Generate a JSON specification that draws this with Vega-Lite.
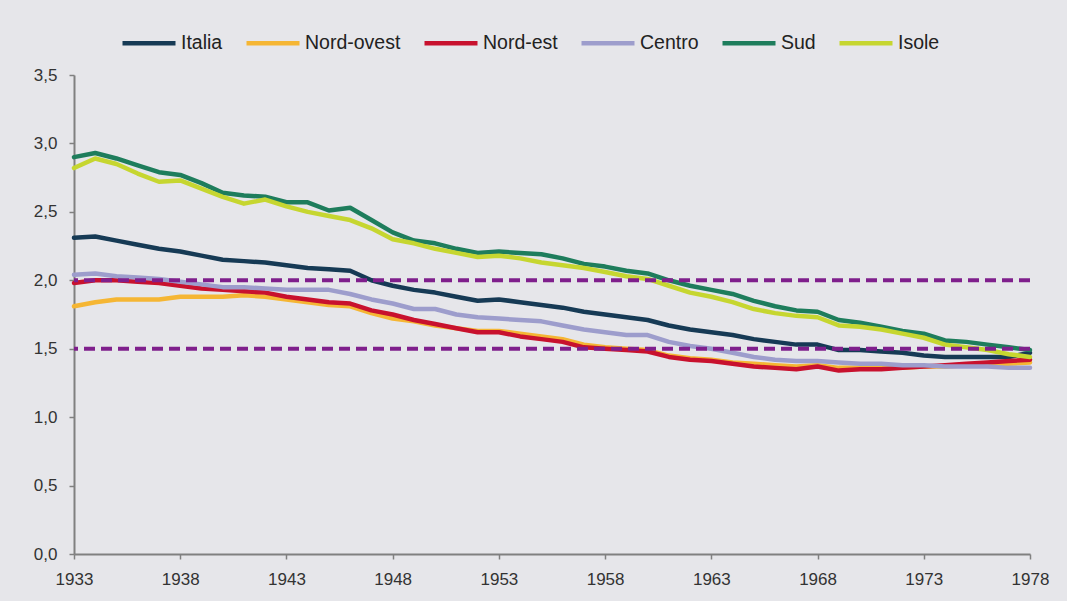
{
  "$schema": "https://vega.github.io/schema/vega-lite/v6.json",
  "width": 956,
  "height": 479,
  "autosize": {"type": "none"},
  "padding": {"left": 74, "top": 75, "right": 37, "bottom": 47},
  "background": "#e6e6ea",
  "config": {"view": {"stroke": null}, "font": "Liberation Sans"},
  "datasets": {
    "series": [
      {"year":1933,"Italia":2.31,"Nord-ovest":1.81,"Nord-est":1.98,"Centro":2.04,"Sud":2.90,"Isole":2.82},
      {"year":1934,"Italia":2.32,"Nord-ovest":1.84,"Nord-est":2.00,"Centro":2.05,"Sud":2.93,"Isole":2.89},
      {"year":1935,"Italia":2.29,"Nord-ovest":1.86,"Nord-est":2.00,"Centro":2.03,"Sud":2.89,"Isole":2.85},
      {"year":1936,"Italia":2.26,"Nord-ovest":1.86,"Nord-est":1.99,"Centro":2.02,"Sud":2.84,"Isole":2.78},
      {"year":1937,"Italia":2.23,"Nord-ovest":1.86,"Nord-est":1.98,"Centro":2.01,"Sud":2.79,"Isole":2.72},
      {"year":1938,"Italia":2.21,"Nord-ovest":1.88,"Nord-est":1.96,"Centro":1.99,"Sud":2.77,"Isole":2.73},
      {"year":1939,"Italia":2.18,"Nord-ovest":1.88,"Nord-est":1.94,"Centro":1.97,"Sud":2.71,"Isole":2.67},
      {"year":1940,"Italia":2.15,"Nord-ovest":1.88,"Nord-est":1.93,"Centro":1.95,"Sud":2.64,"Isole":2.61},
      {"year":1941,"Italia":2.14,"Nord-ovest":1.89,"Nord-est":1.92,"Centro":1.95,"Sud":2.62,"Isole":2.56},
      {"year":1942,"Italia":2.13,"Nord-ovest":1.88,"Nord-est":1.91,"Centro":1.94,"Sud":2.61,"Isole":2.59},
      {"year":1943,"Italia":2.11,"Nord-ovest":1.86,"Nord-est":1.88,"Centro":1.93,"Sud":2.57,"Isole":2.54},
      {"year":1944,"Italia":2.09,"Nord-ovest":1.84,"Nord-est":1.86,"Centro":1.93,"Sud":2.57,"Isole":2.50},
      {"year":1945,"Italia":2.08,"Nord-ovest":1.82,"Nord-est":1.84,"Centro":1.93,"Sud":2.51,"Isole":2.47},
      {"year":1946,"Italia":2.07,"Nord-ovest":1.81,"Nord-est":1.83,"Centro":1.90,"Sud":2.53,"Isole":2.44},
      {"year":1947,"Italia":2.00,"Nord-ovest":1.76,"Nord-est":1.78,"Centro":1.86,"Sud":2.44,"Isole":2.38},
      {"year":1948,"Italia":1.96,"Nord-ovest":1.72,"Nord-est":1.75,"Centro":1.83,"Sud":2.35,"Isole":2.30},
      {"year":1949,"Italia":1.93,"Nord-ovest":1.70,"Nord-est":1.71,"Centro":1.79,"Sud":2.29,"Isole":2.27},
      {"year":1950,"Italia":1.91,"Nord-ovest":1.67,"Nord-est":1.68,"Centro":1.79,"Sud":2.27,"Isole":2.23},
      {"year":1951,"Italia":1.88,"Nord-ovest":1.65,"Nord-est":1.65,"Centro":1.75,"Sud":2.23,"Isole":2.20},
      {"year":1952,"Italia":1.85,"Nord-ovest":1.63,"Nord-est":1.62,"Centro":1.73,"Sud":2.20,"Isole":2.17},
      {"year":1953,"Italia":1.86,"Nord-ovest":1.63,"Nord-est":1.62,"Centro":1.72,"Sud":2.21,"Isole":2.18},
      {"year":1954,"Italia":1.84,"Nord-ovest":1.61,"Nord-est":1.59,"Centro":1.71,"Sud":2.20,"Isole":2.16},
      {"year":1955,"Italia":1.82,"Nord-ovest":1.59,"Nord-est":1.57,"Centro":1.70,"Sud":2.19,"Isole":2.13},
      {"year":1956,"Italia":1.80,"Nord-ovest":1.57,"Nord-est":1.55,"Centro":1.67,"Sud":2.16,"Isole":2.11},
      {"year":1957,"Italia":1.77,"Nord-ovest":1.53,"Nord-est":1.51,"Centro":1.64,"Sud":2.12,"Isole":2.09},
      {"year":1958,"Italia":1.75,"Nord-ovest":1.51,"Nord-est":1.50,"Centro":1.62,"Sud":2.10,"Isole":2.06},
      {"year":1959,"Italia":1.73,"Nord-ovest":1.50,"Nord-est":1.49,"Centro":1.60,"Sud":2.07,"Isole":2.03},
      {"year":1960,"Italia":1.71,"Nord-ovest":1.49,"Nord-est":1.48,"Centro":1.60,"Sud":2.05,"Isole":2.01},
      {"year":1961,"Italia":1.67,"Nord-ovest":1.45,"Nord-est":1.44,"Centro":1.55,"Sud":2.00,"Isole":1.96},
      {"year":1962,"Italia":1.64,"Nord-ovest":1.43,"Nord-est":1.42,"Centro":1.52,"Sud":1.96,"Isole":1.91},
      {"year":1963,"Italia":1.62,"Nord-ovest":1.42,"Nord-est":1.41,"Centro":1.50,"Sud":1.93,"Isole":1.88},
      {"year":1964,"Italia":1.60,"Nord-ovest":1.40,"Nord-est":1.39,"Centro":1.47,"Sud":1.90,"Isole":1.84},
      {"year":1965,"Italia":1.57,"Nord-ovest":1.39,"Nord-est":1.37,"Centro":1.44,"Sud":1.85,"Isole":1.79},
      {"year":1966,"Italia":1.55,"Nord-ovest":1.38,"Nord-est":1.36,"Centro":1.42,"Sud":1.81,"Isole":1.76},
      {"year":1967,"Italia":1.53,"Nord-ovest":1.37,"Nord-est":1.35,"Centro":1.41,"Sud":1.78,"Isole":1.74},
      {"year":1968,"Italia":1.53,"Nord-ovest":1.38,"Nord-est":1.37,"Centro":1.41,"Sud":1.77,"Isole":1.73},
      {"year":1969,"Italia":1.49,"Nord-ovest":1.36,"Nord-est":1.34,"Centro":1.40,"Sud":1.71,"Isole":1.67},
      {"year":1970,"Italia":1.49,"Nord-ovest":1.36,"Nord-est":1.35,"Centro":1.39,"Sud":1.69,"Isole":1.66},
      {"year":1971,"Italia":1.48,"Nord-ovest":1.36,"Nord-est":1.35,"Centro":1.39,"Sud":1.66,"Isole":1.64},
      {"year":1972,"Italia":1.47,"Nord-ovest":1.36,"Nord-est":1.36,"Centro":1.38,"Sud":1.63,"Isole":1.61},
      {"year":1973,"Italia":1.45,"Nord-ovest":1.37,"Nord-est":1.37,"Centro":1.38,"Sud":1.61,"Isole":1.58},
      {"year":1974,"Italia":1.44,"Nord-ovest":1.37,"Nord-est":1.38,"Centro":1.37,"Sud":1.56,"Isole":1.53},
      {"year":1975,"Italia":1.44,"Nord-ovest":1.38,"Nord-est":1.39,"Centro":1.37,"Sud":1.55,"Isole":1.51},
      {"year":1976,"Italia":1.44,"Nord-ovest":1.39,"Nord-est":1.40,"Centro":1.37,"Sud":1.53,"Isole":1.49},
      {"year":1977,"Italia":1.44,"Nord-ovest":1.39,"Nord-est":1.41,"Centro":1.36,"Sud":1.51,"Isole":1.46},
      {"year":1978,"Italia":1.47,"Nord-ovest":1.40,"Nord-est":1.42,"Centro":1.36,"Sud":1.49,"Isole":1.44}
    ],
    "ref": [{"level": 2.0}, {"level": 1.5}]
  },
  "layer": [
    {
      "data": {"name": "series"},
      "transform": [{"fold": ["Italia", "Nord-ovest", "Nord-est", "Centro", "Sud", "Isole"], "as": ["region", "value"]}],
      "mark": {"type": "line", "strokeWidth": 4.5, "strokeJoin": "round", "strokeCap": "round"},
      "encoding": {
        "x": {
          "field": "year", "type": "quantitative",
          "scale": {"domain": [1933, 1978], "nice": false, "zero": false},
          "axis": {
            "title": null, "values": [1933, 1938, 1943, 1948, 1953, 1958, 1963, 1968, 1973, 1978],
            "format": "d", "grid": false, "labelFlush": false, "labelOverlap": false,
            "domainColor": "#808080", "domainWidth": 2, "tickColor": "#808080", "tickWidth": 1.5, "tickSize": 5,
            "labelFontSize": 17, "labelColor": "#333333", "labelPadding": 12
          }
        },
        "y": {
          "field": "value", "type": "quantitative",
          "scale": {"domain": [0, 3.5], "nice": false},
          "axis": {
            "title": null, "values": [0, 0.5, 1, 1.5, 2, 2.5, 3, 3.5],
            "labelExpr": "replace(format(datum.value, '.1f'), '.', ',')",
            "grid": false, "labelFlush": false, "labelOverlap": false,
            "domainColor": "#808080", "domainWidth": 2, "tickColor": "#808080", "tickWidth": 1.5, "tickSize": 5,
            "labelFontSize": 17, "labelColor": "#333333", "labelPadding": 12
          }
        },
        "color": {
          "field": "region", "type": "nominal",
          "scale": {
            "domain": ["Italia", "Nord-ovest", "Nord-est", "Centro", "Sud", "Isole"],
            "range": ["#163a55", "#f5b634", "#c8112e", "#9d9dcc", "#1e7d5c", "#c6d630"]
          },
          "legend": {
            "title": null, "orient": "none", "legendX": 46, "legendY": -61,
            "direction": "horizontal", "columns": 6, "padding": 0,
            "symbolType": "stroke", "symbolSize": 2809, "symbolStrokeWidth": 4.5,
            "labelFontSize": 19.5, "labelColor": "#222222", "labelOffset": 3, "columnPadding": 14
          }
        }
      }
    },
    {
      "data": {"name": "ref"},
      "mark": {"type": "rule", "strokeWidth": 4, "strokeDash": [11, 6], "color": "#7f1f8c"},
      "encoding": {"y": {"field": "level", "type": "quantitative"}}
    }
  ]
}
